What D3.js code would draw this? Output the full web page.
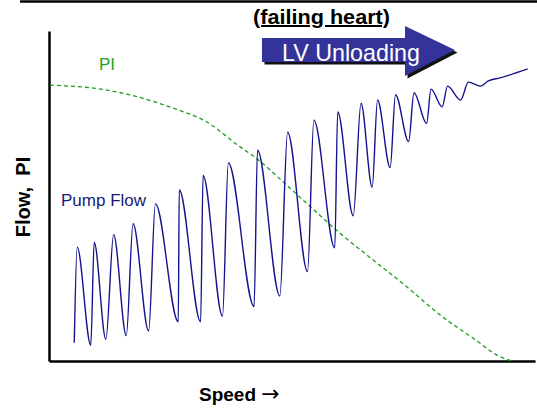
<!DOCTYPE html>
<html lang="en">
<head>
    <meta charset="UTF-8">
    <style>
        body { margin: 0; background: #fff; }
        text { font-family: "Liberation Sans", Arial, sans-serif; }
        .axis path { stroke: #000; stroke-width: 2.5px; }
        .lbl-bold { font-weight: bold; fill: #000; }
    </style>
    <script src="https://d3js.org/d3.v7.min.js"></script>
    <title>Pump Flow and PI vs Speed</title>
</head>
<body>
    <svg width="537" height="408"></svg>

    <script>

        // pump flow trace (speed, flow)
        var flowSpeed = [5.2, 5.8, 8.6, 9.3, 11.7, 13.3, 15.9, 17.3, 20.5, 21.9,
                         26.6, 26.8, 31.2, 31.7, 35.7, 36.9, 42.2, 42.9, 47.5, 49.1,
                         53.2, 54.5, 58.8, 59.4, 62.6, 64.2, 66.5, 67.6, 70.2, 71.3,
                         74.0, 75.1, 77.7, 78.6, 80.9, 82.0, 84.7, 86.3, 88.8, 90.4,
                         92.8, 98.5];
        var flowValue = [5.5, 34.5, 4.8, 36.0, 6.6, 38.3, 7.7, 41.6, 9.1, 47.6,
                         11.9, 51.8, 11.9, 56.2, 13.6, 60.0, 16.5, 63.9, 19.7, 69.3,
                         27.1, 73.0, 34.3, 75.5, 44.0, 78.1, 52.6, 79.1, 58.6, 80.7,
                         66.5, 81.3, 72.0, 82.4, 77.0, 83.3, 79.1, 84.5, 83.3, 84.9,
                         85.8, 88.5];

        // pulsatility index curve
        var piSpeed = [0.2, 11.9, 25.6, 32.4, 39.3, 42.7, 48.9, 53.0, 59.9, 66.7, 73.6, 80.5, 87.3, 92.8, 95.3];
        var piValue = [83.6, 82.1, 76.6, 72.5, 64.9, 61.4, 53.3, 47.8, 38.7, 30.6, 22.5, 13.9, 6.9, 1.3, 0];

        var svg = d3.select("svg");

        var x = d3.scaleLinear().domain([0, 100]).range([49, 535]);
        var y = d3.scaleLinear().domain([0, 100]).range([361, 31]);

        // rule across the top
        svg.append("line")
           .attr("x1", 20).attr("x2", 537)
           .attr("y1", 1.5).attr("y2", 1.5)
           .attr("stroke", "#000").attr("stroke-width", 2.5);

        // axes without ticks
        svg.append("g").attr("class", "axis")
           .attr("transform", "translate(0," + y(0) + ")")
           .call(d3.axisBottom(x).ticks(0).tickSizeOuter(0));
        svg.append("g").attr("class", "axis")
           .attr("transform", "translate(" + x(0) + ",0)")
           .call(d3.axisLeft(y).ticks(0).tickSizeOuter(0));

        var line = d3.line()
                     .x(function(d) { return x(d[0]); })
                     .y(function(d) { return y(d[1]); })
                     .curve(d3.curveMonotoneX);

        svg.append("path")
           .datum(d3.zip(piSpeed, piValue))
           .attr("d", line)
           .attr("fill", "none")
           .attr("stroke", "#1f9a1f")
           .attr("stroke-width", 1.3)
           .attr("stroke-dasharray", "4,3");

        svg.append("path")
           .datum(d3.zip(flowSpeed, flowValue))
           .attr("d", line)
           .attr("fill", "none")
           .attr("stroke", "#14148c")
           .attr("stroke-width", 1.4);

        // series labels
        svg.append("text")
           .attr("x", 99).attr("y", 70)
           .attr("font-size", 17)
           .attr("fill", "#22a022")
           .text("PI");

        svg.append("text")
           .attr("x", 61).attr("y", 206)
           .attr("font-size", 17)
           .attr("fill", "#1a1a78")
           .text("Pump Flow");

        // axis titles
        svg.append("text")
           .attr("class", "lbl-bold")
           .attr("transform", "translate(30,197) rotate(-90)")
           .attr("text-anchor", "middle")
           .attr("font-size", 20)
           .style("white-space", "pre")
           .text("Flow,  PI");

        var speedLbl = svg.append("text")
           .attr("class", "lbl-bold")
           .attr("x", 199).attr("y", 401)
           .attr("font-size", 19);
        speedLbl.append("tspan").text("Speed ");
        speedLbl.append("tspan")
           .attr("font-size", 22)
           .attr("font-family", "DejaVu Sans")
           .attr("font-weight", "normal")
           .text("\u2192");

        // LV unloading arrow
        var arrow = [[262, 38], [405, 38], [405, 26], [455, 50], [405, 76], [405, 62], [262, 62]];
        svg.append("polygon")
           .attr("points", arrow.map(function(p) { return (p[0] + 2.5) + "," + (p[1] + 2.5); }).join(" "))
           .attr("fill", "#111");
        svg.append("polygon")
           .attr("points", arrow.map(function(p) { return p.join(","); }).join(" "))
           .attr("fill", "#333399");

        svg.append("text")
           .attr("x", 282).attr("y", 61)
           .attr("font-size", 24)
           .attr("fill", "#fff")
           .attr("textLength", 138)
           .attr("lengthAdjust", "spacingAndGlyphs")
           .text("LV Unloading");

        svg.append("text")
           .attr("class", "lbl-bold")
           .attr("x", 253).attr("y", 24)
           .attr("font-size", 20)
           .attr("textLength", 137)
           .attr("lengthAdjust", "spacingAndGlyphs")
           .attr("text-decoration", "underline")
           .text("(failing heart)");

    </script>
</body>
</html>
